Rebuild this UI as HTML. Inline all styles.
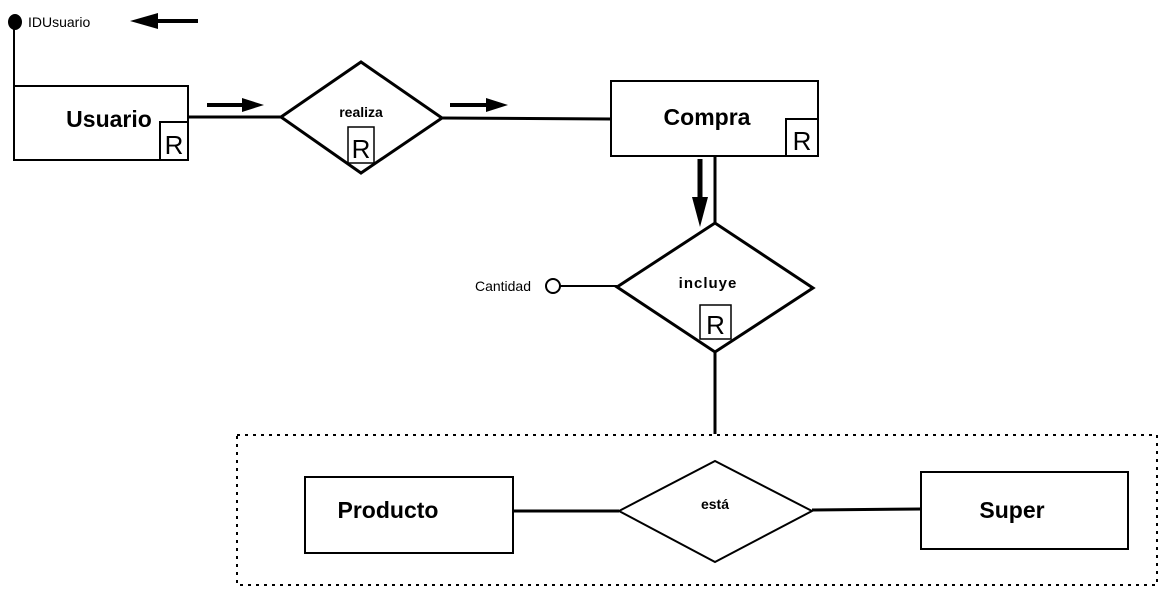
<!DOCTYPE html>
<html><head><meta charset="utf-8"><style>
html,body{margin:0;padding:0;background:#fff;}
svg{display:block;}
text{font-family:"Liberation Sans",Arial,sans-serif;fill:#000;}
</style></head><body>
<svg width="1167" height="594" viewBox="0 0 1167 594" xmlns="http://www.w3.org/2000/svg">
<ellipse cx="15" cy="22" rx="7" ry="8" fill="#000"/>
<text x="28" y="27" font-size="14">IDUsuario</text>
<line x1="14" y1="22" x2="14" y2="86" stroke="#000" stroke-width="2"/>
<line x1="155" y1="21" x2="198" y2="21" stroke="#000" stroke-width="4"/>
<polygon points="130,21 158,13 158,29" fill="#000"/>
<rect x="14" y="86" width="174" height="74" fill="#fff" stroke="#000" stroke-width="2"/>
<text x="109" y="127" font-size="23" font-weight="bold" text-anchor="middle">Usuario</text>
<rect x="160" y="122" width="28" height="38" fill="#fff" stroke="#000" stroke-width="2"/>
<text x="174" y="154" font-size="26" text-anchor="middle">R</text>
<line x1="188" y1="117" x2="281" y2="117" stroke="#000" stroke-width="3"/>
<line x1="207" y1="105" x2="244" y2="105" stroke="#000" stroke-width="4"/>
<polygon points="242,98 264,105 242,112" fill="#000"/>
<polygon points="281,117 361,62 442,118 361,173" fill="#fff" stroke="#000" stroke-width="3"/>
<text x="361" y="117" font-size="14" font-weight="bold" text-anchor="middle">realiza</text>
<rect x="348" y="127" width="26" height="36" fill="#fff" stroke="#000" stroke-width="1.5"/>
<text x="361" y="158" font-size="26" text-anchor="middle">R</text>
<line x1="442" y1="118" x2="612" y2="119" stroke="#000" stroke-width="3"/>
<line x1="450" y1="105" x2="488" y2="105" stroke="#000" stroke-width="4"/>
<polygon points="486,98 508,105 486,112" fill="#000"/>
<rect x="611" y="81" width="207" height="75" fill="#fff" stroke="#000" stroke-width="2"/>
<text x="707" y="125" font-size="23" font-weight="bold" text-anchor="middle">Compra</text>
<rect x="786" y="119" width="32" height="37" fill="#fff" stroke="#000" stroke-width="2"/>
<text x="802" y="150" font-size="26" text-anchor="middle">R</text>
<line x1="700" y1="159" x2="700" y2="200" stroke="#000" stroke-width="5"/>
<polygon points="692,197 708,197 700,227" fill="#000"/>
<line x1="715" y1="157" x2="715" y2="224" stroke="#000" stroke-width="3"/>
<polygon points="617,287 715,223 813,288 715,352" fill="#fff" stroke="#000" stroke-width="3"/>
<text x="708" y="288" font-size="15" font-weight="bold" text-anchor="middle" letter-spacing="1">incluye</text>
<rect x="700" y="305" width="31" height="34" fill="#fff" stroke="#000" stroke-width="1.5"/>
<text x="715.5" y="334" font-size="26" text-anchor="middle">R</text>
<line x1="560" y1="286" x2="617" y2="286" stroke="#000" stroke-width="2"/>
<circle cx="553" cy="286" r="7" fill="#fff" stroke="#000" stroke-width="2"/>
<text x="531" y="291" font-size="14" text-anchor="end">Cantidad</text>
<line x1="715" y1="352" x2="715" y2="434" stroke="#000" stroke-width="3"/>
<rect x="237" y="435" width="920" height="150" fill="none" stroke="#000" stroke-width="2" stroke-dasharray="3,5"/>
<rect x="305" y="477" width="208" height="76" fill="#fff" stroke="#000" stroke-width="2"/>
<text x="388" y="518" font-size="23" font-weight="bold" text-anchor="middle">Producto</text>
<line x1="513" y1="511" x2="619" y2="511" stroke="#000" stroke-width="3"/>
<polygon points="619,511 715,461 812,511 715,562" fill="#fff" stroke="#000" stroke-width="2"/>
<text x="715" y="509" font-size="14" font-weight="bold" text-anchor="middle">está</text>
<line x1="812" y1="510" x2="921" y2="509" stroke="#000" stroke-width="3"/>
<rect x="921" y="472" width="207" height="77" fill="#fff" stroke="#000" stroke-width="2"/>
<text x="1012" y="518" font-size="23" font-weight="bold" text-anchor="middle">Super</text>
</svg>
</body></html>
